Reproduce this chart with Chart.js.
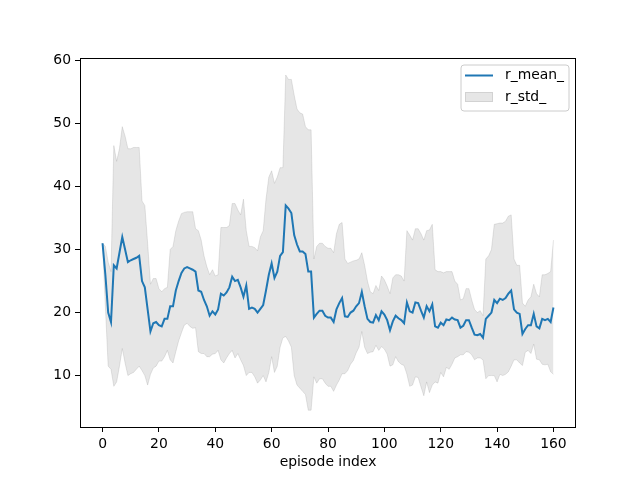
<!DOCTYPE html>
<html>
<head>
<meta charset="utf-8">
<script src="https://cdn.jsdelivr.net/npm/chart.js@4/dist/chart.umd.min.js"></script>
<style>
  html, body { margin: 0; padding: 0; background: #fff; }
  #wrap { width: 640px; height: 480px; }
</style>
</head>
<body>
<div id="wrap"><canvas id="chart" width="640" height="480"></canvas></div>
<script>
const rMean = [
  31, 26, 20, 18.5, 27.5, 27, 29.5, 32, 30, 28, 28.3, 28.5, 28.7, 29, 25, 24, 20.5, 17, 18.3, 18.5,
  18, 17.8, 19, 19, 21, 21, 23.5, 25, 26.3, 27, 27.2, 27, 26.8, 26.5, 23.5, 23.3, 22, 21, 19.5, 20.2,
  19.7, 20.5, 23, 22.7, 23.2, 24, 25.7, 25, 25.2, 24, 22.5, 24.3, 20.6, 20.8, 20.6, 20, 20.6, 21.2, 23.5, 26,
  27.8, 25.5, 26.5, 29, 29.6, 37, 36.5, 35.8, 32.3, 30.8, 29.7, 29.7, 29.3, 26.5, 26.5, 19.2, 19.8, 20.3, 20.3, 19.5,
  19.2, 19.2, 18.5, 20.5, 21.5, 22.3, 19.4, 19.3, 20, 20.3, 21, 21.5, 23.3, 21, 19, 18.5, 18.4, 19.6, 18.8, 20.2,
  19.7, 18.8, 17.2, 18.6, 19.5, 19.1, 18.8, 18.3, 21.6, 20.2, 20, 21.6, 21.5, 20.3, 19.2, 21, 20.2, 21.3, 17.8, 17.6,
  18.4, 18, 18.9, 18.8, 19.2, 18.9, 18.8, 17.6, 17.9, 18.8, 18.8, 17.6, 16.5, 16.4, 16.6, 16, 19, 19.5, 20, 22,
  21.5, 22.2, 22, 22.3, 23, 23.5, 20.5, 20, 19.8, 16.6, 17.4, 18, 18, 19.8, 17.8, 17.5, 19, 18.8, 19, 18.5,
  20.8
];

const rUpper = [
  31, 30.5, 28, 26.5, 46.5, 44, 46, 49.5, 48, 46, 46, 46.2, 46.2, 46.2, 37.7, 37, 31, 24.5, 25.4, 25.4,
  23.8, 23.3, 23.8, 24, 30, 30.5, 33, 34.5, 35.7, 35.9, 36, 36, 36, 33.3, 33, 31.5, 29, 27.3, 26, 26.8,
  25.8, 26, 33.5, 33.5, 33.5, 33.8, 37.3, 37.3, 36.3, 35.5, 38, 33, 30.5, 30.5, 30.3, 29.8, 32, 33, 38, 41.5,
  42.5, 40.5, 41.5, 43, 43, 57.7, 57, 57, 54.5, 52.3, 51.7, 51.5, 49.5, 49, 49, 28.5, 30.5, 31, 31, 30.5,
  30.2, 30.2, 29.5, 32.5, 34, 34.3, 28.5, 27.8, 28, 28.2, 28.3, 28.5, 29.5, 27.5, 25, 23.3, 23, 24.3, 23.5, 25.8,
  25.2, 24.2, 23, 25.5, 26, 26, 25.8, 25, 33, 32.3, 31.5, 33.3, 33.3, 32.5, 31.5, 33, 33.1, 34, 26.8, 26.5,
  26.5, 26.3, 26.5, 26.5, 26.5, 25, 24.5, 22, 22.2, 23.8, 23.8, 22, 20.5, 20, 20.3, 19.5, 28.5, 29, 30, 34,
  34.1, 34.2, 34.2, 34.5, 35.3, 35.5, 28.5, 27.5, 27.5, 21.5, 21, 22, 22.5, 24.5, 23, 22.5, 26, 26, 26.2, 26.5,
  31.5
];

const rLower = [
  31, 21, 11.5, 11, 8.3, 9, 11.5, 14.3, 12, 10, 10.3, 10.5, 11, 11.5, 10.8, 10, 8.5, 10.2, 11.2, 11.5,
  12.3, 12.3, 13, 14, 12.5, 12, 13.8, 15.5, 16.8, 18, 18.3, 17.8, 17.5, 17.6, 13.8, 13.5, 13.5, 13, 13, 13.4,
  13.5, 14, 12.5, 12, 12.8, 13.5, 14, 12.8, 13.5, 12.5, 11.6, 10, 10.5, 10.5, 9.8, 8.8, 9.3, 10, 9, 10.5,
  13, 10.5, 11.5, 14.5, 16, 16.2, 15.5, 14.5, 10, 8.5, 8, 7.5, 7, 4.5, 4.5, 9.8, 8.8, 9.5, 9.5, 8.8,
  8.3, 8.3, 7.5, 8.5, 9.3, 10.3, 10.3, 10.8, 11.8, 12.4, 13.6, 14.5, 17, 14.5, 13.5, 13.7, 13.8, 14.8, 14, 14.6,
  14.2, 13.4, 11.5, 11.7, 13, 12.2, 11.8, 11.6, 10.2, 8.3, 8.5, 9.8, 9.7, 8.2, 6.8, 9, 7.3, 8.5, 9, 8.8,
  10.5, 9.8, 11.3, 11, 11.8, 12.8, 13, 13.3, 13.3, 13.8, 13.7, 13.3, 12.5, 12.8, 12.8, 12.5, 9.5, 10, 10, 10,
  9, 10.2, 10, 10.2, 10.6, 11.5, 12.5, 12.5, 12, 11.6, 13.7, 14, 13.5, 15, 12.6, 12.5, 11.8, 11.7, 11.8, 10.6,
  10.2
];

const episodes = rMean.map((_, i) => i);
const xTicks = [0, 20, 40, 60, 80, 100, 120, 140, 160];
const yTicks = [10, 20, 30, 40, 50, 60];

const toPoints = arr => arr.map((v, i) => ({ x: episodes[i], y: v }));

Chart.defaults.font.family = "'DejaVu Sans', sans-serif";
Chart.defaults.font.size = 13.9;
Chart.defaults.color = '#000';

// matplotlib-like frame + legend
const framePlugin = {
  id: 'frame',
  afterDatasetsDraw(chart) {
    const { ctx, chartArea: a } = chart;
    ctx.save();
    ctx.strokeStyle = '#000';
    ctx.lineWidth = 1;
    ctx.strokeRect(Math.round(a.left) + 0.5, Math.round(a.top) + 0.5,
      Math.round(a.right - a.left) - 1, Math.round(a.bottom - a.top));

    // legend box
    const bx = 461, by = 65, bw = 108, bh = 46, r = 3;
    ctx.beginPath();
    ctx.moveTo(bx + r, by);
    ctx.arcTo(bx + bw, by, bx + bw, by + bh, r);
    ctx.arcTo(bx + bw, by + bh, bx, by + bh, r);
    ctx.arcTo(bx, by + bh, bx, by, r);
    ctx.arcTo(bx, by, bx + bw, by, r);
    ctx.closePath();
    ctx.fillStyle = 'rgba(255,255,255,0.8)';
    ctx.fill();
    ctx.strokeStyle = '#cccccc';
    ctx.stroke();

    ctx.strokeStyle = '#1f77b4';
    ctx.lineWidth = 2;
    ctx.beginPath();
    ctx.moveTo(465, 75.5);
    ctx.lineTo(493, 75.5);
    ctx.stroke();

    ctx.fillStyle = 'rgba(128,128,128,0.2)';
    ctx.fillRect(465, 92, 28, 10);
    ctx.strokeStyle = 'rgba(128,128,128,0.2)';
    ctx.lineWidth = 1;
    ctx.strokeRect(465.5, 92.5, 27, 9);

    ctx.fillStyle = '#000';
    ctx.font = "13.9px 'DejaVu Sans', sans-serif";
    ctx.textBaseline = 'middle';
    ctx.textAlign = 'left';
    ctx.fillText('r_mean_', 505, 75);
    ctx.fillText('r_std_', 505, 97);
    ctx.restore();
  }
};

new Chart(document.getElementById('chart').getContext('2d'), {
  type: 'line',
  data: {
    datasets: [
      {
        label: 'r_mean_',
        data: toPoints(rMean),
        borderColor: '#1f77b4',
        borderWidth: 2,
        pointRadius: 0,
        tension: 0,
        fill: false
      },
      {
        label: 'r_std_',
        data: toPoints(rUpper),
        borderColor: 'rgba(128,128,128,0.2)',
        backgroundColor: 'rgba(128,128,128,0.2)',
        borderWidth: 1,
        pointRadius: 0,
        tension: 0,
        fill: '+1'
      },
      {
        label: 'r_std_lower',
        data: toPoints(rLower),
        borderColor: 'rgba(128,128,128,0.2)',
        borderWidth: 1,
        pointRadius: 0,
        tension: 0,
        fill: false
      }
    ]
  },
  options: {
    responsive: false,
    animation: false,
    layout: { padding: { left: 0, right: 64, top: 58, bottom: 0 } },
    plugins: {
      legend: { display: false },
      tooltip: { enabled: false }
    },
    scales: {
      x: {
        type: 'linear',
        min: -8,
        max: 168,
        afterBuildTicks: s => { s.ticks = xTicks.map(v => ({ value: v })); },
        afterFit: s => { s.height = 53; },
        ticks: { padding: 4, maxRotation: 0 },
        grid: { drawOnChartArea: false, drawTicks: true, tickLength: 5, tickColor: '#000', tickWidth: 1 },
        border: { display: false },
        title: { display: true, text: 'episode index', padding: { top: 0, bottom: 9 } }
      },
      y: {
        type: 'linear',
        min: 1.84,
        max: 60.4,
        afterBuildTicks: s => { s.ticks = yTicks.map(v => ({ value: v })); },
        afterFit: s => { s.width = 80; },
        ticks: { padding: 4 },
        grid: { drawOnChartArea: false, drawTicks: true, tickLength: 5, tickColor: '#000', tickWidth: 1 },
        border: { display: false }
      }
    }
  },
  plugins: [framePlugin]
});
</script>
</body>
</html>
